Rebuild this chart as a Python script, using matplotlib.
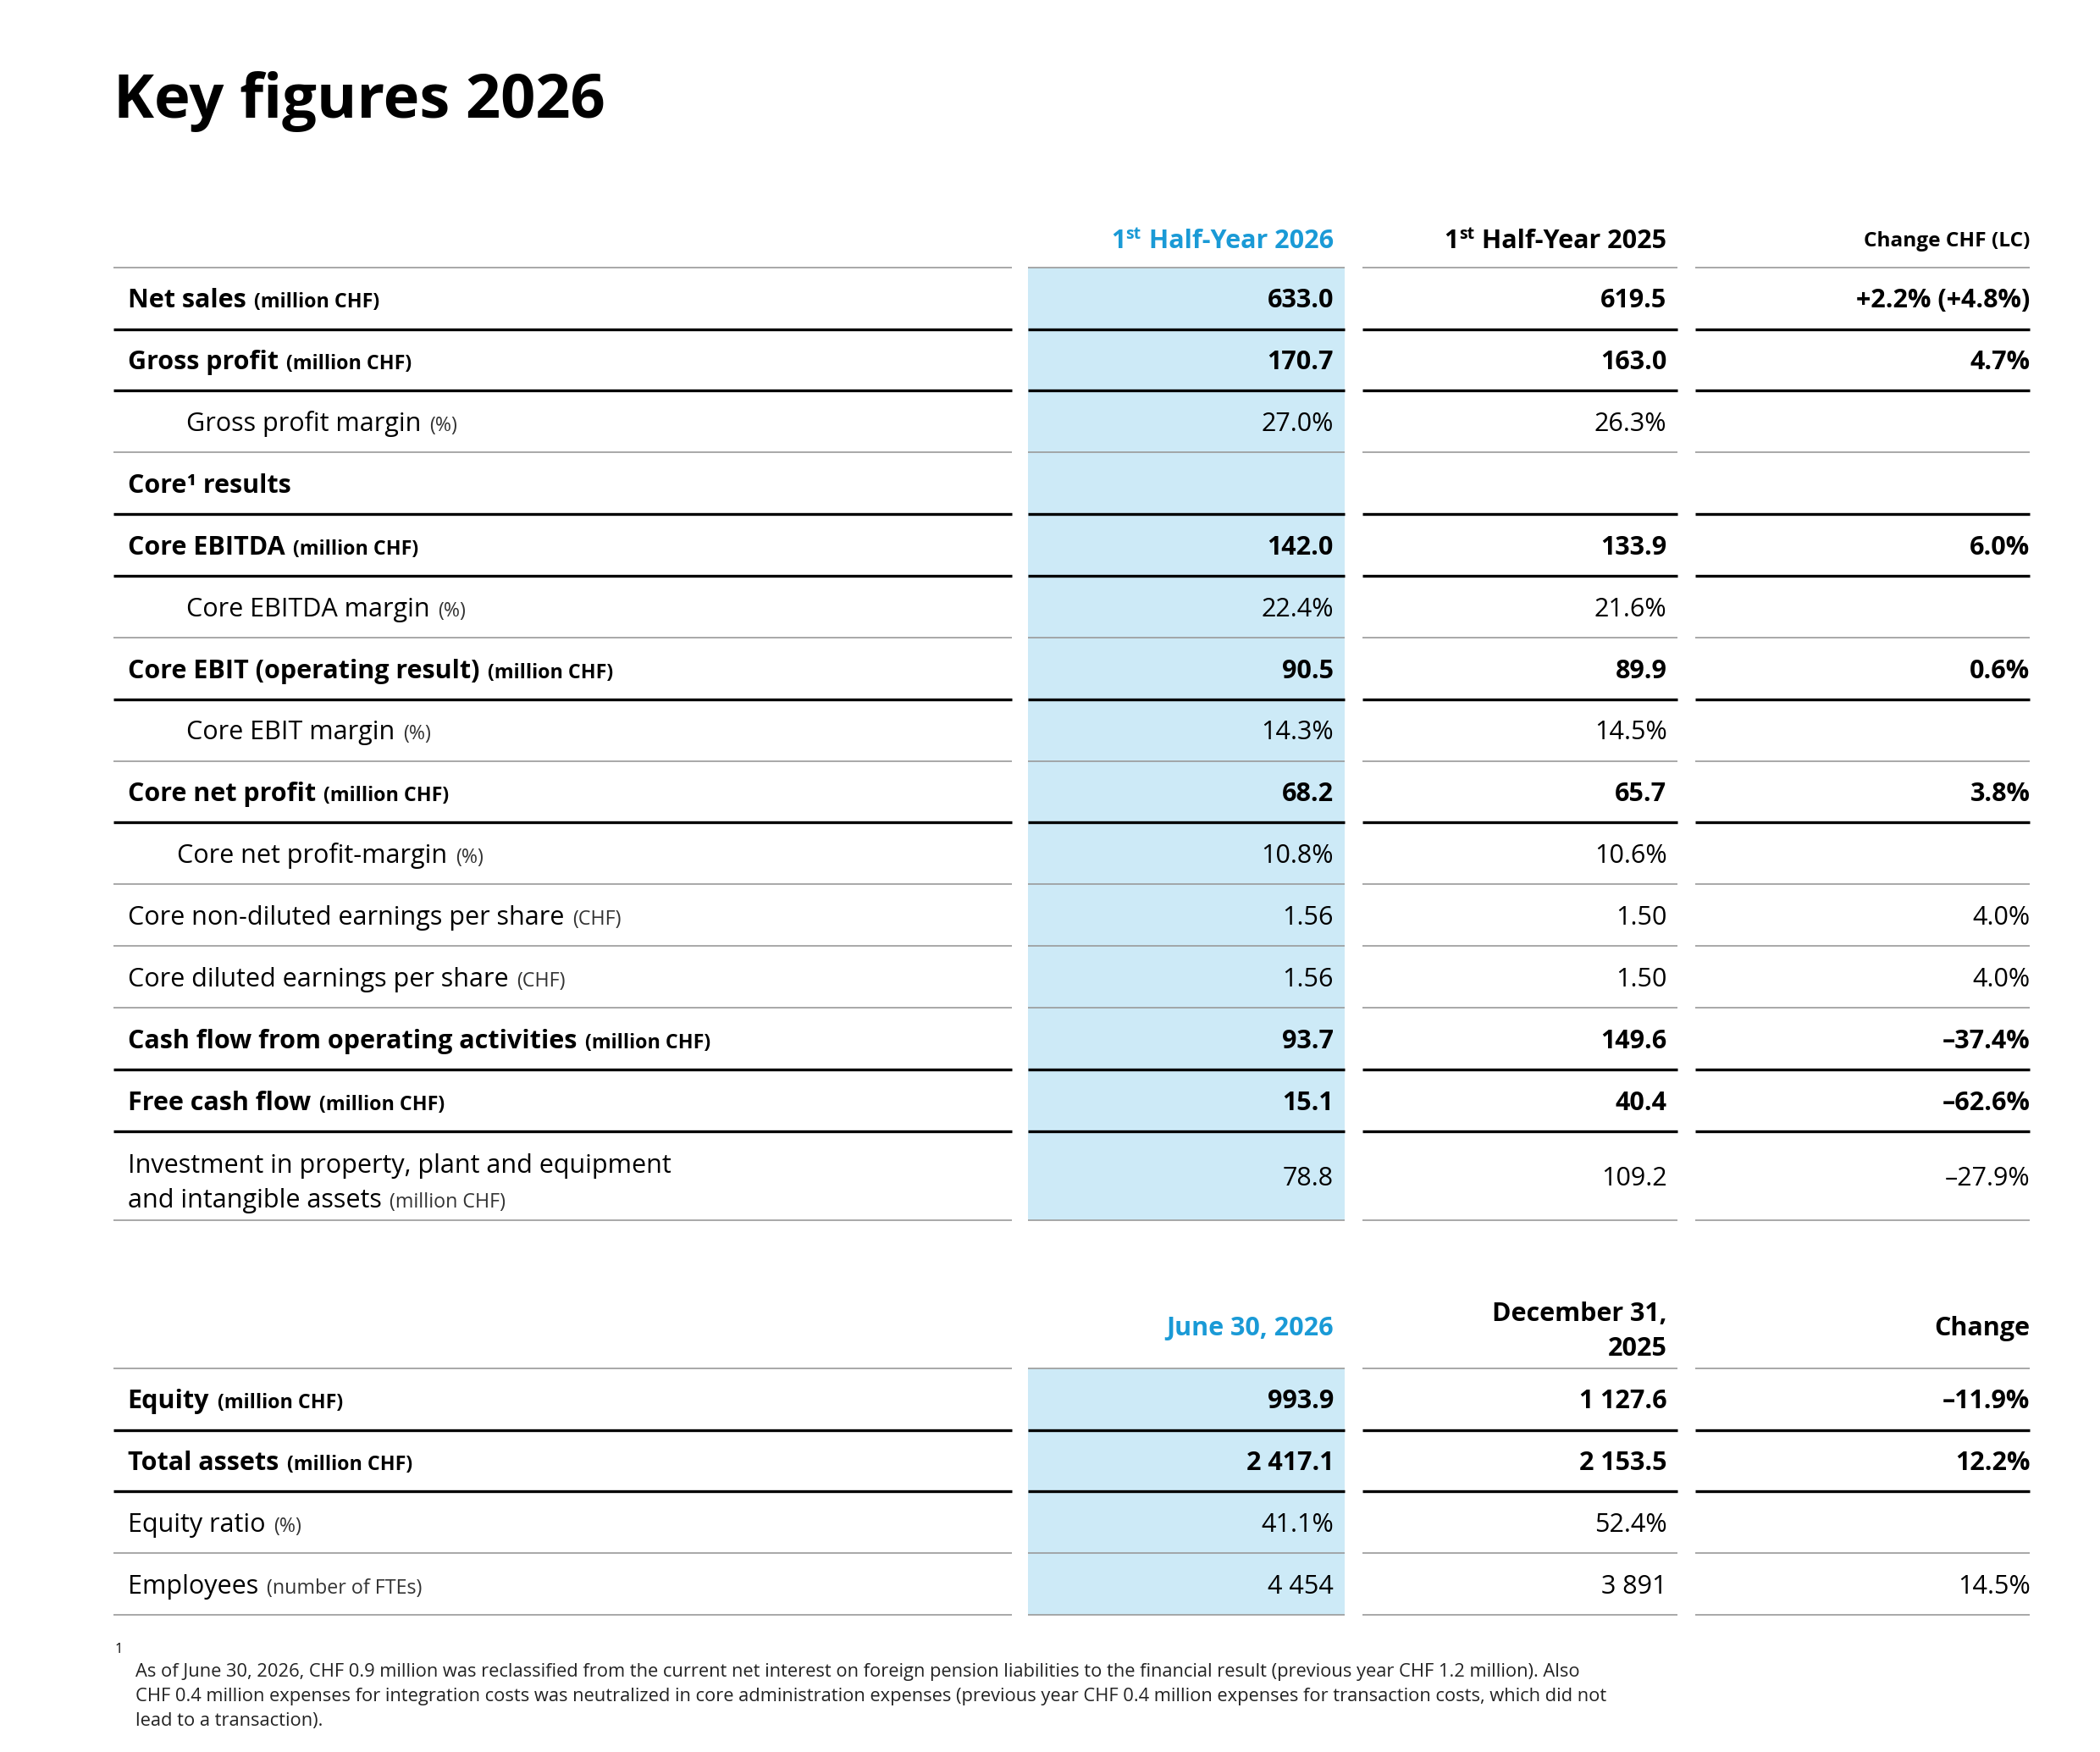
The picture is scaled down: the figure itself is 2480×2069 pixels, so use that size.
import matplotlib.pyplot as plt

plt.rcParams['font.family'] = ['Open Sans', 'DejaVu Sans']

BLUE = "#1a9ad6"
BG = "#cdeaf7"
GRAY = "#9a9a9a"

# ---- data ----
labels = ["Net sales", "Gross profit", "Gross profit margin", "Core\u00b9 results",
          "Core EBITDA", "Core EBITDA margin", "Core EBIT (operating result)",
          "Core EBIT margin", "Core net profit", "Core net profit-margin",
          "Core non-diluted earnings per share", "Core diluted earnings per share",
          "Cash flow from operating activities", "Free cash flow",
          "Investment in property, plant and equipment\nand intangible assets"]
units = ["(million CHF)", "(million CHF)", "(%)", "", "(million CHF)", "(%)",
         "(million CHF)", "(%)", "(million CHF)", "(%)", "(CHF)", "(CHF)",
         "(million CHF)", "(million CHF)", "(million CHF)"]
bold = [1, 1, 0, 1, 1, 0, 1, 0, 1, 0, 0, 0, 1, 1, 0]
indent = [0, 0, 43, 0, 0, 43, 0, 43, 0, 36, 0, 0, 0, 0, 0]
h1_2026 = ["633.0", "170.7", "27.0%", "", "142.0", "22.4%", "90.5", "14.3%",
           "68.2", "10.8%", "1.56", "1.56", "93.7", "15.1", "78.8"]
h1_2025 = ["619.5", "163.0", "26.3%", "", "133.9", "21.6%", "89.9", "14.5%",
           "65.7", "10.6%", "1.50", "1.50", "149.6", "40.4", "109.2"]
change1 = ["+2.2% (+4.8%)", "4.7%", "", "", "6.0%", "", "0.6%", "", "3.8%", "",
           "4.0%", "4.0%", "\u201337.4%", "\u201362.6%", "\u201327.9%"]

labels2 = ["Equity", "Total assets", "Equity ratio", "Employees"]
units2 = ["(million CHF)", "(million CHF)", "(%)", "(number of FTEs)"]
bold2 = [1, 1, 0, 0]
jun2026 = ["993.9", "2 417.1", "41.1%", "4 454"]
dec2025 = ["1 127.6", "2 153.5", "52.4%", "3 891"]
change2 = ["\u201311.9%", "12.2%", "", "14.5%"]

footnote = ("As of June 30, 2026, CHF 0.9 million was reclassified from the current net interest on foreign pension liabilities to the financial result (previous year CHF 1.2 million). Also\n"
            "CHF 0.4 million expenses for integration costs was neutralized in core administration expenses (previous year CHF 0.4 million expenses for transaction costs, which did not\n"
            "lead to a transaction).")

# ---- layout (reference pixel frame) ----
W, H = 1532, 1278
fig = plt.figure(figsize=(12.4, 10.345), dpi=200)
ax = fig.add_axes([0, 0, 1, 1])
ax.set_xlim(0, W)
ax.set_ylim(H, 0)
ax.axis("off")
renderer = fig.canvas.get_renderer()

SEGS = [(83, 738), (750, 981), (994, 1224), (1237, 1481)]
RX = [973, 1216, 1481]
LX = 93
FS, FU = 11, 8.4


def width_of(t):
    bb = t.get_window_extent(renderer)
    inv = ax.transData.inverted()
    return inv.transform((bb.x1, 0))[0] - inv.transform((bb.x0, 0))[0]


def label_with_unit(x, y, text, unit, isbold):
    # y is the baseline of the last line
    w = "bold" if isbold else "normal"
    ax.text(x, y, text, fontsize=FS, fontweight=w, va="baseline", ha="left",
            linespacing=1.5)
    if unit:
        last = text.split("\n")[-1]
        tl = ax.text(x, -100, last, fontsize=FS, fontweight=w)
        dx = width_of(tl)
        tl.remove()
        ax.text(x + dx + 6, y, unit, fontsize=FU, fontweight=w,
                color="black" if isbold else "#333333", va="baseline")


def hline(y, thick, segs=SEGS):
    for x0, x1 in segs:
        ax.plot([x0, x1], [y, y], color="black" if thick else GRAY,
                lw=1.2 if thick else 0.6, solid_capstyle="butt")


def sup_header(xr, y, base, color):
    t = ax.text(xr, y, base, fontsize=FS, fontweight="bold", color=color,
                ha="right", va="baseline")
    w = width_of(t)
    s = ax.text(xr - w - 1, y - 7, "st", fontsize=7, fontweight="bold",
                color=color, ha="right", va="baseline")
    ws = width_of(s)
    ax.text(xr - w - ws - 1, y, "1", fontsize=FS, fontweight="bold",
            color=color, ha="right", va="baseline")


ax.text(83, 86, "Key figures 2026", fontsize=26, fontweight="bold", va="baseline")

# table 1
top = 195
heights = [45] * 14 + [65]
bottom = top + sum(heights)
ax.add_patch(plt.Rectangle((750, top), 231, bottom - top, color=BG, lw=0))
sup_header(973, 181, " Half-Year 2026", BLUE)
sup_header(1216, 181, " Half-Year 2025", "black")
ax.text(1481, 180, "Change CHF (LC)", fontsize=8.8, fontweight="bold",
        ha="right", va="baseline")
hline(top, False)

y = top
for i, h in enumerate(heights):
    base = y + h / 2 + 7
    w = "bold" if bold[i] else "normal"
    if "\n" in labels[i]:
        label_with_unit(LX + indent[i], y + 56, labels[i], units[i], bold[i])
    else:
        label_with_unit(LX + indent[i], base, labels[i], units[i], bold[i])
    for xr, v in zip(RX, [h1_2026[i], h1_2025[i], change1[i]]):
        ax.text(xr, base, v, fontsize=FS, fontweight=w, ha="right", va="baseline")
    y += h
    hline(y, bold[i])

# table 2
top2 = 998
ax.add_patch(plt.Rectangle((750, top2), 231, 180, color=BG, lw=0))
ax.text(973, 974, "June 30, 2026", fontsize=FS, fontweight="bold", color=BLUE,
        ha="right", va="baseline")
ax.text(1216, 989, "December 31,\n2025", fontsize=FS, fontweight="bold",
        ha="right", va="baseline", linespacing=1.5, multialignment="right")
ax.text(1481, 974, "Change", fontsize=FS, fontweight="bold", ha="right", va="baseline")
hline(top2, False)
y = top2
for i in range(len(labels2)):
    base = y + 22.5 + 7
    w = "bold" if bold2[i] else "normal"
    label_with_unit(LX, base, labels2[i], units2[i], bold2[i])
    for xr, v in zip(RX, [jun2026[i], dec2025[i], change2[i]]):
        ax.text(xr, base, v, fontsize=FS, fontweight=w, ha="right", va="baseline")
    y += 45
    hline(y, bold2[i])

ax.text(84, 1206, "1", fontsize=6, va="baseline")
ax.text(99, 1259, footnote, fontsize=7.9, va="baseline", linespacing=1.5,
        color="#222222")

fig.savefig("out.png", dpi=200)
